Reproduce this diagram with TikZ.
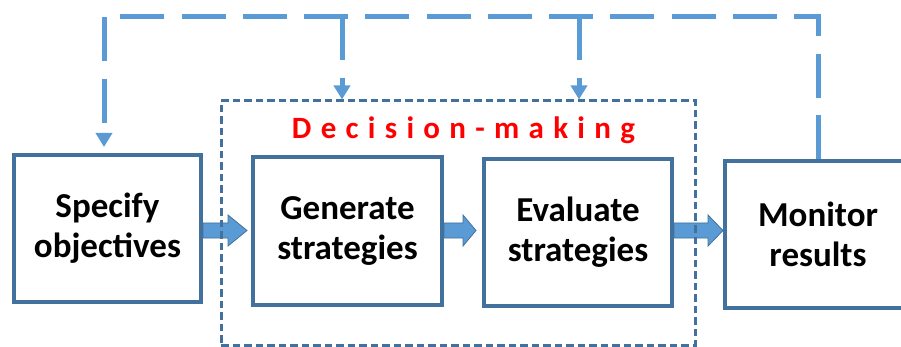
\documentclass[tikz,border=0pt]{standalone}
\usepackage{fontspec}
\setmainfont{Carlito}
\newfontfamily\spacedfont[LetterSpace=30]{Carlito}
\usetikzlibrary{arrows.meta,calc}
\definecolor{boxblue}{HTML}{41719C}
\definecolor{fbblue}{HTML}{5B9BD5}
\newcommand{\blockarrow}[4]{%
  \path[blockarr] let \p1=(#1.east |- arow), \p2=(#2.west |- arow) in
    (\x1,\y1+7.5pt) -- (\x2-#3-#4,\y1+7.5pt) -- (\x2-#3-#4,\y1+15.5pt) --
    (\x2-#3,\y1) -- (\x2-#3-#4,\y1-15.5pt) -- (\x2-#3-#4,\y1-7.5pt) --
    (\x1,\y1-7.5pt) -- cycle;}
\begin{document}
\begin{tikzpicture}[x=1pt,y=-1pt,
  box/.style={draw=boxblue, line width=4pt, fill=white, align=center, inner sep=0pt,
    font=\bfseries\fontsize{35pt}{40pt}\selectfont},
  blockarr/.style={fill=fbblue, draw=boxblue, line width=0.8pt},
  decbox/.style={draw=boxblue, line width=3pt, dash pattern=on 7.5pt off 4pt},
  fb/.style={draw=fbblue, line width=5pt, dash pattern=on 44pt off 17.25pt,
    -{Triangle[width=16pt,length=14pt]}},
  title/.style={text=red, font=\spacedfont\bfseries\fontsize{31pt}{36pt}\selectfont, inner sep=0pt, anchor=base}]
\useasboundingbox (0,0) rectangle (901,347);
\clip (0,0) rectangle (901,347);
\coordinate (arow) at (0,230.5);
% boxes
\node[box, minimum width=187pt, minimum height=147pt] (b1) at (107.5,228.5) {Specify\\objectives};
\node[box, minimum width=189pt, minimum height=148pt] (b2) at (347.5,231) {Generate\\strategies};
\node[box, minimum width=188pt, minimum height=147pt] (b3) at (578,232.5) {Evaluate\\strategies};
\node[box, minimum width=186pt, minimum height=147pt] (b4) at (818,234.5) {Monitor\\results};
% block arrows
\blockarrow{b1}{b2}{4pt}{19pt}
\blockarrow{b2}{b3}{6pt}{13pt}
\blockarrow{b3}{b4}{0pt}{15pt}
% decision-making frame
\node[decbox, minimum width=474pt, minimum height=244pt, inner sep=0pt] (dec) at (458,223) {};
\node[title] (dt) at (463.5,139) {Decision-making};
% feedback loop
\coordinate (tl) at (104,16.5);
\coordinate (ba) at (342,16.5);
\coordinate (bb) at (579,16.5);
\draw[fb, shorten >=6pt] (b4.north) -- (b4.north |- tl) -- (tl) -- (tl |- b1.north);
\draw[fb] (ba) -- (ba |- dec.north);
\draw[fb] (bb) -- (bb |- dec.north);
\end{tikzpicture}
\end{document}
